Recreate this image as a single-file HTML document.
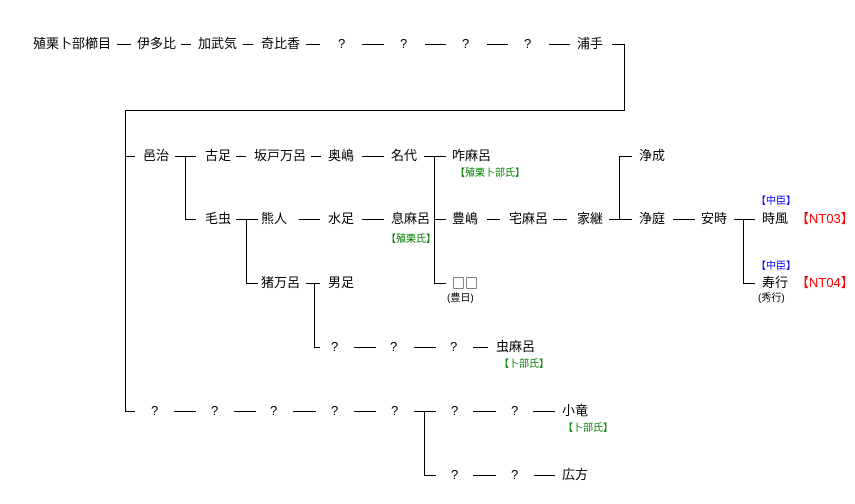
<!DOCTYPE html>
<html><head><meta charset="utf-8"><style>
html,body{margin:0;padding:0;background:#fff;}
#c{position:relative;width:855px;height:504px;overflow:hidden;font-family:"Liberation Sans","Noto Sans CJK JP",sans-serif;}
.t{position:absolute;font-size:13px;line-height:14px;color:#000;white-space:nowrap;}
.s{position:absolute;font-size:10px;line-height:11px;white-space:nowrap;}
.g{color:#008000}.b{color:#0000ff}.r{color:#ff0000;font-size:13px;line-height:14px}.k{color:#000}
svg{position:absolute;left:0;top:0}
</style></head><body><div id="c">
<svg width="855" height="504" stroke="#000" stroke-width="1" shape-rendering="crispEdges" fill="none">
<path d="M117 44.5H131M181 44.5H191M243 44.5H253M306 44.5H320M362 44.5H384M425 44.5H446M487 44.5H508M549 44.5H570M612 44.5H624.5V110.5H125.5V411.5H135"/>
<path d="M125 156.5H135M175 156.5H196M185.5 156.5V219.5H196M236 156.5H246M311 156.5H321M362 156.5H384M424 156.5H446M434.5 156.5V283.5H446"/>
<path d="M236 219.5H258M246.5 219.5V283.5H258M299 219.5H320M362 219.5H384M434 219.5H446M487 219.5H500M553 219.5H567M609 219.5H632M619.5 219.5V156.5H632M673 219.5H695M734 219.5H755M743.5 219.5V283.5H755"/>
<path d="M306 283.5H320M314.5 283.5V347.5H320M354 347.5H376M414 347.5H436M473 347.5H488"/>
<path d="M174 411.5H196M234 411.5H256M293 411.5H316M354 411.5H376M414 411.5H436M424.5 411.5V475.5H436M473 411.5H496M533 411.5H555M473 475.5H496M534 475.5H555"/>
</svg>
<div class="t" style="left:33px;top:37px">殖栗卜部櫛目</div>
<div class="t" style="left:137px;top:37px">伊多比</div>
<div class="t" style="left:198px;top:37px">加武気</div>
<div class="t" style="left:261px;top:37px">奇比香</div>
<div class="t" style="left:338px;top:37px">?</div>
<div class="t" style="left:400px;top:37px">?</div>
<div class="t" style="left:462px;top:37px">?</div>
<div class="t" style="left:524px;top:37px">?</div>
<div class="t" style="left:577px;top:37px">浦手</div>

<div class="t" style="left:143px;top:149px">邑治</div>
<div class="t" style="left:205px;top:149px">古足</div>
<div class="t" style="left:254px;top:149px">坂戸万呂</div>
<div class="t" style="left:328px;top:149px">奥嶋</div>
<div class="t" style="left:391px;top:149px">名代</div>
<div class="t" style="left:452px;top:149px">咋麻呂</div>
<div class="s g" style="left:455px;top:168px">【殖栗卜部氏】</div>
<div class="t" style="left:639px;top:149px">浄成</div>

<div class="t" style="left:205px;top:212px">毛虫</div>
<div class="t" style="left:261px;top:212px">熊人</div>
<div class="t" style="left:328px;top:212px">水足</div>
<div class="t" style="left:391px;top:212px">息麻呂</div>
<div class="s g" style="left:386px;top:234px">【殖栗氏】</div>
<div class="t" style="left:452px;top:212px">豊嶋</div>
<div class="t" style="left:509px;top:212px">宅麻呂</div>
<div class="t" style="left:577px;top:212px">家継</div>
<div class="t" style="left:639px;top:212px">浄庭</div>
<div class="t" style="left:701px;top:212px">安時</div>
<div class="s b" style="left:756px;top:196px">【中臣】</div>
<div class="t" style="left:762px;top:212px">時風</div>
<div class="s r" style="left:796px;top:212px">【NT03】</div>

<div class="t" style="left:261px;top:276px">猪万呂</div>
<div class="t" style="left:328px;top:276px">男足</div>
<div class="t" style="left:452px;top:276px;font-family:'Noto Sans CJK JP',sans-serif;">□□</div>
<div class="s k" style="left:447px;top:293px">(豊日)</div>
<div class="s b" style="left:756px;top:261px">【中臣】</div>
<div class="t" style="left:762px;top:276px">寿行</div>
<div class="s r" style="left:796px;top:276px">【NT04】</div>
<div class="s k" style="left:758px;top:293px">(秀行)</div>

<div class="t" style="left:331px;top:340px">?</div>
<div class="t" style="left:390px;top:340px">?</div>
<div class="t" style="left:450px;top:340px">?</div>
<div class="t" style="left:496px;top:340px">虫麻呂</div>
<div class="s g" style="left:499px;top:359px">【卜部氏】</div>

<div class="t" style="left:151px;top:404px">?</div>
<div class="t" style="left:211px;top:404px">?</div>
<div class="t" style="left:270px;top:404px">?</div>
<div class="t" style="left:331px;top:404px">?</div>
<div class="t" style="left:391px;top:404px">?</div>
<div class="t" style="left:451px;top:404px">?</div>
<div class="t" style="left:511px;top:404px">?</div>
<div class="t" style="left:562px;top:404px">小竜</div>
<div class="s g" style="left:563px;top:423px">【卜部氏】</div>

<div class="t" style="left:451px;top:468px">?</div>
<div class="t" style="left:511px;top:468px">?</div>
<div class="t" style="left:562px;top:468px">広方</div>
</div></body></html>
